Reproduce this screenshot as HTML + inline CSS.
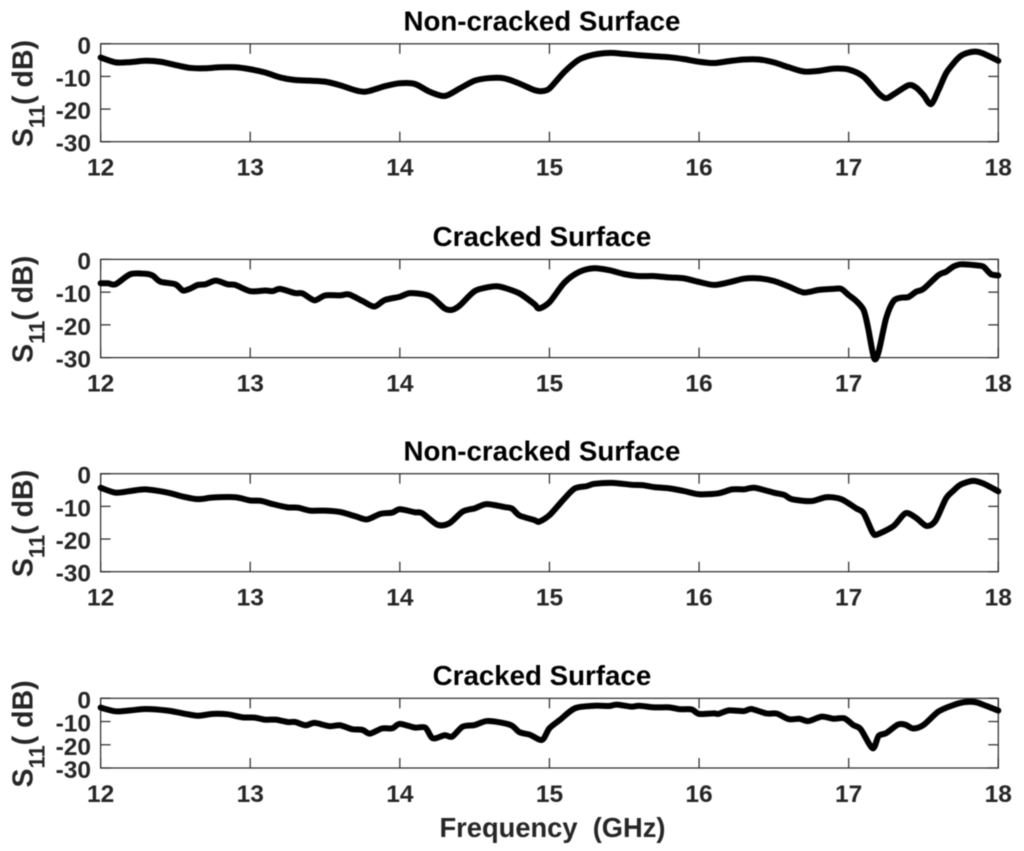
<!DOCTYPE html>
<html lang="en">
<head>
<meta charset="utf-8">
<title>S11 of Non-cracked and Cracked Surfaces</title>
<style>
  html, body { margin: 0; padding: 0; background: #fff; }
  body { width: 1024px; height: 851px; overflow: hidden; }
  svg { display: block; filter: blur(0.4px); }
  text { font-family: "Liberation Sans", Arial, sans-serif; font-weight: bold; }
</style>
</head>
<body>
<svg id="chart" xmlns="http://www.w3.org/2000/svg" width="1024" height="851" viewBox="0 0 1024 851"></svg>
<script>
const xTicks = [12, 13, 14, 15, 16, 17, 18];
const yTicks = [0, -10, -20, -30];
const panelTitles = ["Non-cracked Surface", "Cracked Surface", "Non-cracked Surface", "Cracked Surface"];
const xAxisLabel = "Frequency  (GHz)";

const freq1 = [12,12.1,12.2,12.3,12.4,12.5,12.6,12.7,12.8,12.9,13,13.1,13.2,13.3,13.4,13.5,13.6,13.7,13.76,13.8,13.9,14,14.1,14.2,14.3,14.4,14.5,14.6,14.7,14.8,14.9,14.95,15,15.1,15.2,15.3,15.4,15.5,15.6,15.7,15.8,15.9,16,16.1,16.2,16.3,16.4,16.5,16.6,16.7,16.8,16.9,17,17.1,17.2,17.25,17.3,17.4,17.45,17.5,17.55,17.6,17.65,17.7,17.75,17.8,17.85,17.9,18];
const s11a = [-4.2,-5.7,-5.6,-5.2,-5.5,-6.5,-7.4,-7.5,-7.2,-7.2,-7.8,-8.8,-10.3,-11.1,-11.3,-11.6,-12.7,-14.2,-14.7,-14.4,-13,-12.1,-12.3,-14.7,-16,-13.7,-11.3,-10.5,-10.6,-12.2,-14.2,-14.5,-13.7,-8.6,-4.8,-3.3,-2.8,-3.1,-3.5,-3.8,-4.1,-4.7,-5.5,-5.9,-5.3,-4.8,-4.8,-5.7,-7.2,-8.5,-8.3,-7.6,-7.9,-10.1,-15.2,-16.7,-15.5,-12.7,-13.4,-15.7,-18.5,-14.2,-9.1,-6,-3.7,-2.7,-2.4,-3,-5.2];

const freq2 = [12,12.05,12.1,12.2,12.3,12.35,12.4,12.5,12.55,12.6,12.65,12.7,12.77,12.85,12.9,13,13.1,13.15,13.2,13.3,13.35,13.43,13.5,13.6,13.66,13.75,13.83,13.9,14,14.07,14.2,14.3,14.35,14.4,14.5,14.6,14.65,14.7,14.8,14.9,14.93,15,15.1,15.2,15.3,15.4,15.5,15.6,15.7,15.8,15.9,16,16.1,16.2,16.3,16.4,16.5,16.6,16.7,16.8,16.9,16.95,17,17.05,17.1,17.13,17.17,17.2,17.25,17.3,17.35,17.4,17.45,17.5,17.6,17.65,17.7,17.75,17.85,17.9,17.95,18];
const s11b = [-7.3,-7.3,-7.6,-4.5,-4.4,-5,-6.8,-7.6,-9.5,-8.9,-7.8,-7.6,-6.5,-7.6,-7.8,-9.7,-9.5,-9.7,-9,-10.3,-10.4,-12.5,-11,-11,-10.7,-12.7,-14.4,-12.4,-11.4,-10.3,-11.2,-15,-15.4,-14.1,-9.7,-8.4,-8.2,-8.7,-10.4,-13.7,-15,-13.1,-7.1,-3.8,-2.7,-3.3,-4.5,-5.1,-5.1,-5.5,-5.8,-6.9,-7.8,-7,-5.9,-5.8,-6.6,-8.3,-10.1,-9.3,-9,-9,-10.9,-12.7,-15.5,-21,-30.2,-28.2,-18,-12.7,-11.7,-11.5,-9.9,-9,-4.8,-3.8,-2.2,-1.5,-1.8,-2.2,-4.5,-4.9];

const freq3 = [12,12.1,12.2,12.3,12.45,12.55,12.65,12.75,12.9,13,13.07,13.15,13.25,13.32,13.4,13.5,13.6,13.7,13.78,13.87,13.95,14,14.1,14.15,14.25,14.33,14.42,14.5,14.58,14.7,14.75,14.8,14.9,14.93,15,15.1,15.17,15.25,15.3,15.42,15.55,15.62,15.7,15.8,15.9,16,16.13,16.22,16.3,16.37,16.5,16.57,16.62,16.75,16.85,16.95,17.05,17.1,17.16,17.19,17.3,17.38,17.45,17.52,17.58,17.65,17.7,17.75,17.83,17.9,18];
const s11c = [-4.3,-5.8,-5.3,-4.8,-5.8,-7,-7.8,-7.3,-7.2,-8.2,-8.3,-9.3,-10.3,-10.4,-11.3,-11.3,-11.7,-13,-14,-12.3,-11.9,-10.9,-11.8,-12.1,-15.6,-15.2,-11.6,-10.6,-9.3,-10.2,-10.7,-12.8,-14.2,-14.7,-12.7,-7.6,-4.5,-3.8,-3.1,-2.8,-3.4,-3.5,-4.1,-4.5,-5.3,-6.3,-6,-4.8,-4.8,-4.3,-5.8,-6.5,-7.8,-8.4,-7.2,-7.8,-10.6,-12.1,-18,-18.6,-16,-12.1,-13.5,-16,-14.4,-7.6,-5.2,-3.3,-2.2,-3,-5.4];

const freq4 = [12,12.1,12.2,12.3,12.45,12.55,12.65,12.75,12.85,12.95,13.03,13.1,13.17,13.25,13.3,13.37,13.43,13.53,13.6,13.68,13.75,13.8,13.88,13.95,14,14.1,14.17,14.22,14.3,14.35,14.42,14.5,14.58,14.68,14.75,14.8,14.87,14.95,15,15.07,15.17,15.3,15.4,15.45,15.55,15.6,15.7,15.8,15.87,15.95,16,16.1,16.13,16.2,16.3,16.35,16.45,16.52,16.6,16.67,16.73,16.82,16.9,16.97,17.03,17.08,17.16,17.2,17.25,17.33,17.38,17.43,17.5,17.6,17.7,17.78,17.85,17.92,18];
const s11d = [-4,-5.6,-5.2,-4.6,-5.3,-6.5,-7.5,-6.7,-6.9,-8.2,-8.3,-9.2,-9.2,-10.2,-10.2,-11.6,-10.6,-12,-11.6,-13.3,-13.6,-15.2,-13,-12.9,-11,-12.6,-12.6,-17.2,-15.9,-16.5,-12.2,-11.5,-9.8,-10.5,-11.8,-14.6,-15.7,-17.9,-12.9,-9.3,-4.3,-3.2,-3.3,-2.7,-3.6,-3.2,-3.9,-3.9,-4.7,-4.8,-6.7,-6.5,-6.7,-5.2,-5.5,-4.6,-6.5,-6.6,-9,-8.8,-9.8,-7.9,-8.8,-8.6,-11.5,-13.3,-21.5,-16.2,-15,-11.3,-11.4,-13,-11.5,-5.7,-2.9,-1.6,-1.7,-3.3,-5.3];

const seriesFreqs = [freq1, freq2, freq3, freq4];
const seriesValues = [s11a, s11b, s11c, s11d];

const SVG_NS = "http://www.w3.org/2000/svg";
const chart = document.getElementById("chart");
const INK = "#262626";
const plotLeft = 100.6;
const plotRight = 998.3;
const panelBoxes = [
  { top: 43.8, bottom: 141.7 },
  { top: 259.4, bottom: 357.6 },
  { top: 473.7, bottom: 571.7 },
  { top: 698.3, bottom: 768.0 }
];
const xMin = 12, xMax = 18, yMin = -30, yMax = 0;

function xScale(f) {
  return plotLeft + (f - xMin) / (xMax - xMin) * (plotRight - plotLeft);
}
function yScale(v, box) {
  return box.top + (yMax - v) / (yMax - yMin) * (box.bottom - box.top);
}
function make(tag, attrs, parent) {
  const el = document.createElementNS(SVG_NS, tag);
  for (const k in attrs) el.setAttribute(k, attrs[k]);
  parent.appendChild(el);
  return el;
}
function smoothPath(pts) {
  let d = "M" + pts[0][0].toFixed(2) + " " + pts[0][1].toFixed(2);
  const t = 0.14;
  for (let i = 0; i < pts.length - 1; i++) {
    const p0 = pts[Math.max(i - 1, 0)];
    const p1 = pts[i];
    const p2 = pts[i + 1];
    const p3 = pts[Math.min(i + 2, pts.length - 1)];
    const c1x = p1[0] + (p2[0] - p0[0]) * t;
    const c1y = p1[1] + (p2[1] - p0[1]) * t;
    const c2x = p2[0] - (p3[0] - p1[0]) * t;
    const c2y = p2[1] - (p3[1] - p1[1]) * t;
    d += "C" + c1x.toFixed(2) + " " + c1y.toFixed(2) + " " + c2x.toFixed(2) + " " + c2y.toFixed(2) + " " + p2[0].toFixed(2) + " " + p2[1].toFixed(2);
  }
  return d;
}

panelBoxes.forEach(function (box, p) {
  const group = make("g", {}, chart);
  
  

  const frame = make("rect", {
    x: plotLeft, y: box.top, width: plotRight - plotLeft, height: box.bottom - box.top,
    fill: "#fff", stroke: INK, "stroke-width": 1.2
  }, group);
  
  

  xTicks.forEach(function (tick) {
    const x = xScale(tick);
    const bottomTick = make("line", { x1: x, x2: x, y1: box.bottom, y2: box.bottom - 10, stroke: INK, "stroke-width": 1.2 }, group);
    
    
    const topTick = make("line", { x1: x, x2: x, y1: box.top, y2: box.top + 10, stroke: INK, "stroke-width": 1.2 }, group);
    
    
    const label = make("text", { x: x, y: box.bottom + 34, "text-anchor": "middle", "font-size": 24.5, fill: INK }, group);
    label.textContent = String(tick);
    
    
  });

  yTicks.forEach(function (tick) {
    const y = yScale(tick, box);
    const leftTick = make("line", { x1: plotLeft, x2: plotLeft + 10, y1: y, y2: y, stroke: INK, "stroke-width": 1.2 }, group);
    
    
    const rightTick = make("line", { x1: plotRight, x2: plotRight - 10, y1: y, y2: y, stroke: INK, "stroke-width": 1.2 }, group);
    
    
    const label = make("text", { x: 91, y: y + 10, "text-anchor": "end", "font-size": 24.5, fill: INK }, group);
    label.textContent = String(tick);
    
    
  });

  const title = make("text", {
    x: (plotLeft + plotRight) / 2 - 7.5, y: box.top - 13.2,
    "text-anchor": "middle", "font-size": 27.7, fill: "#000"
  }, group);
  title.textContent = panelTitles[p];
  
  

  const midY = (box.top + box.bottom) / 2;
  const yLabel = make("text", {
    transform: "translate(32.5 " + (midY + 0.8) + ") rotate(-90)",
    "text-anchor": "middle", "font-size": 28.5, fill: INK
  }, group);
  
  
  const sPart = make("tspan", {}, yLabel);
  sPart.textContent = "S";
  const subPart = make("tspan", { dy: 12, "font-size": 22 }, yLabel);
  subPart.textContent = "11";
  const restPart = make("tspan", { dy: -12 }, yLabel);
  restPart.textContent = "( dB)";

  const pts = seriesFreqs[p].map(function (f, i) {
    return [xScale(f), yScale(seriesValues[p][i], box)];
  });
  const curve = make("path", {
    d: smoothPath(pts), fill: "none", stroke: "#000", "stroke-width": 6,
    "stroke-linejoin": "round", "stroke-linecap": "round"
  }, group);
  
  
});

const xTitle = make("text", {
  x: 552.5, y: 837, "text-anchor": "middle", "font-size": 27.3, fill: INK, style: "white-space:pre"
}, chart);
xTitle.textContent = xAxisLabel;


</script>
</body>
</html>
